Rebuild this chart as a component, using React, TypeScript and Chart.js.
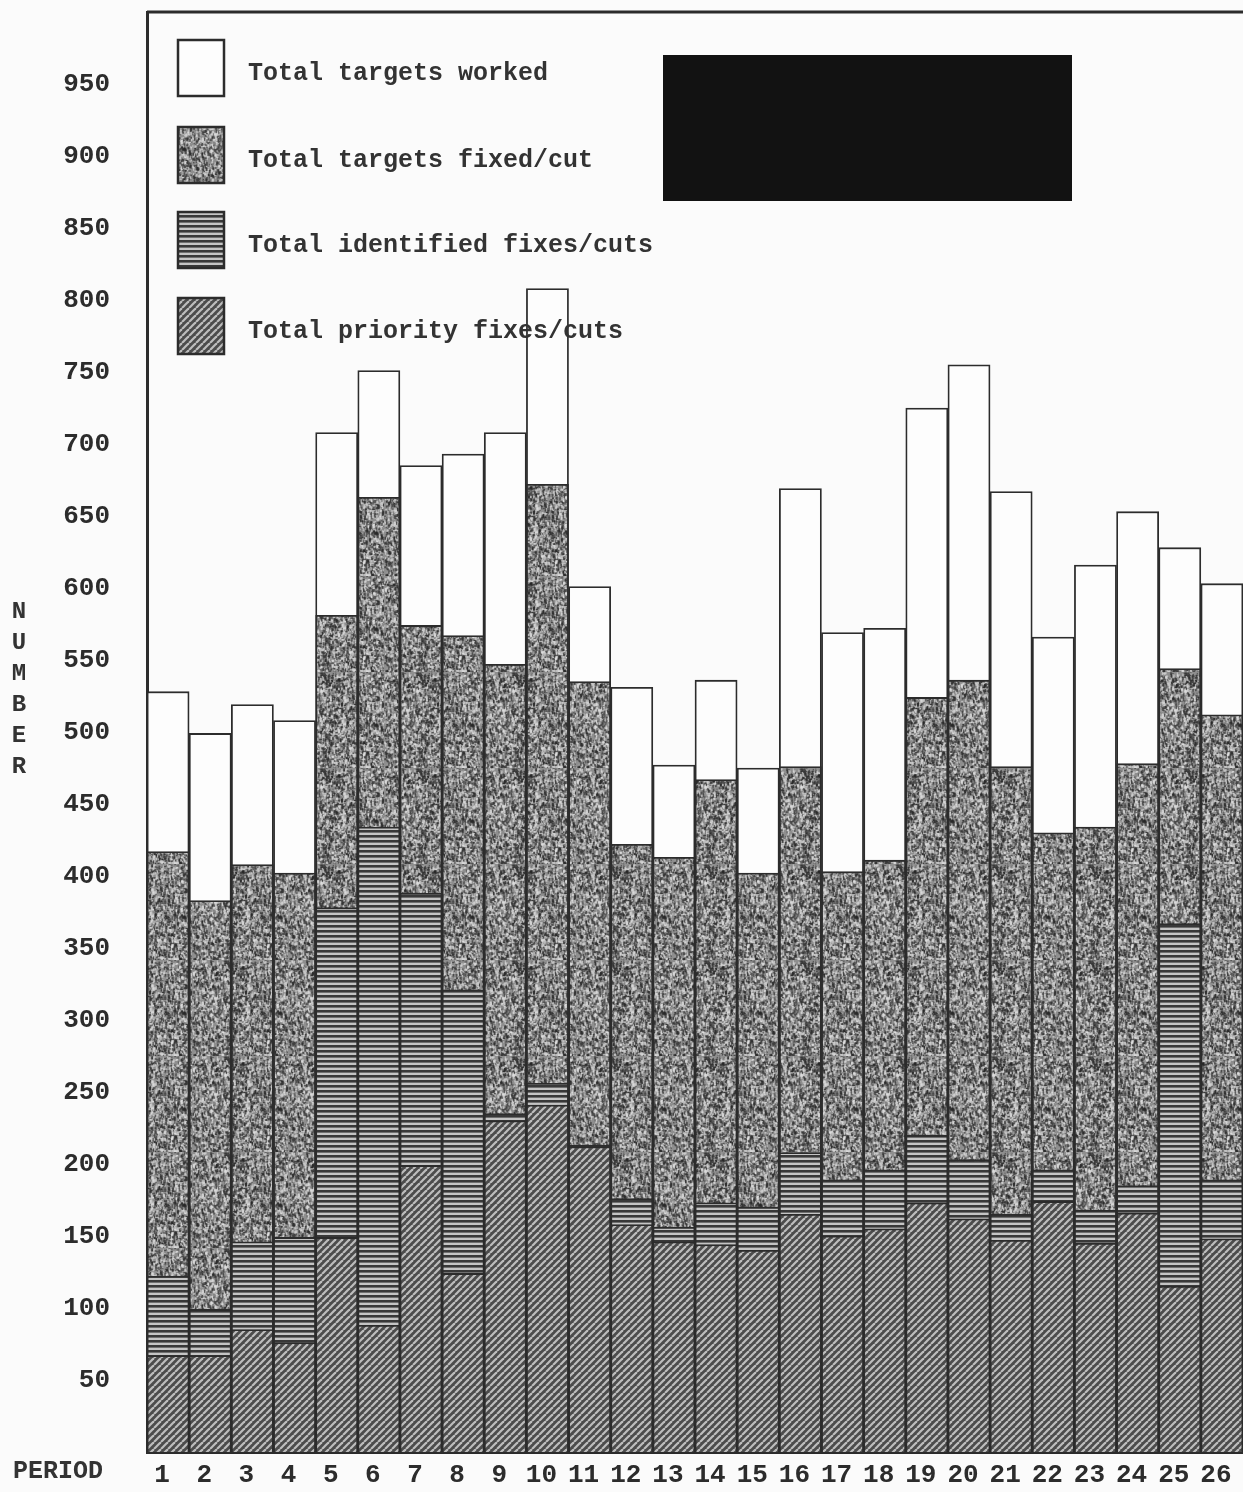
import React, { useEffect, useRef } from "react";
import { Chart, registerables } from "chart.js";

Chart.register(...registerables);

const periods = ["1","2","3","4","5","6","7","8","9","10","11","12","13","14","15","16","17","18","19","20","21","22","23","24","25","26"];
const totalWorked = [528,499,519,508,708,751,685,693,708,808,601,531,477,536,475,669,569,572,725,755,667,566,616,653,628,603];
const totalFixedCut = [417,383,408,402,581,663,574,567,547,672,535,422,413,467,402,476,403,411,524,536,476,430,434,478,544,512];
const identifiedFixes = [122,99,146,149,378,434,388,321,235,256,213,176,156,173,170,208,189,196,220,203,165,196,168,185,367,189];
const priorityFixes = [67,67,85,76,149,88,199,124,230,241,212,158,146,144,140,165,150,155,173,162,147,174,145,166,115,148];
const seriesLabels = ["Total targets worked", "Total targets fixed/cut", "Total identified fixes/cuts", "Total priority fixes/cuts"];
const yAxisTitle = "NUMBER";
const xAxisTitle = "PERIOD";

const FONT = "'Liberation Mono', 'DejaVu Sans Mono', monospace";
const INK = "#2c2c2c";

function makeRng(seed: number) {
  let s = seed >>> 0;
  return () => {
    s = (s * 1664525 + 1013904223) >>> 0;
    return s / 4294967296;
  };
}

function stipple(ctx: CanvasRenderingContext2D) {
  const c = document.createElement("canvas");
  c.width = 96; c.height = 96;
  const g = c.getContext("2d")!;
  g.fillStyle = "#8e8e8e";
  g.fillRect(0, 0, 96, 96);
  const rng = makeRng(11);
  for (let i = 0; i < 3200; i++) {
    const x = rng() * 96, y = rng() * 96, r = rng();
    g.fillStyle = r < 0.55 ? "rgba(40,40,40,0.6)" : "rgba(225,225,225,0.6)";
    g.fillRect(x, y, 1 + rng() * 1.5, 1 + rng() * 3);
  }
  return ctx.createPattern(c, "repeat")!;
}

function stripes(ctx: CanvasRenderingContext2D) {
  const c = document.createElement("canvas");
  c.width = 8; c.height = 5;
  const g = c.getContext("2d")!;
  g.fillStyle = "#c4c4c4";
  g.fillRect(0, 0, 8, 5);
  g.fillStyle = "#383838";
  g.fillRect(0, 0, 8, 2.6);
  return ctx.createPattern(c, "repeat")!;
}

function hatch(ctx: CanvasRenderingContext2D) {
  const s = 7;
  const c = document.createElement("canvas");
  c.width = s; c.height = s;
  const g = c.getContext("2d")!;
  g.fillStyle = "#4c4c4c";
  g.fillRect(0, 0, s, s);
  g.strokeStyle = "#bdbdbd";
  g.lineWidth = 2.2;
  for (const off of [-s, 0, s]) {
    g.beginPath();
    g.moveTo(off, s);
    g.lineTo(off + s, 0);
    g.stroke();
  }
  return ctx.createPattern(c, "repeat")!;
}

export default function App() {
  const ref = useRef<HTMLCanvasElement | null>(null);

  useEffect(() => {
    document.body.style.margin = "0";
    const canvas = ref.current!;
    const ctx = canvas.getContext("2d")!;
    const fills = ["#fdfdfd", stipple(ctx), stripes(ctx), hatch(ctx)] as any[];
    const values = [totalWorked, totalFixedCut, identifiedFixes, priorityFixes];

    const paperPlugin = {
      id: "paper",
      beforeDraw(chart: any) {
        const c = chart.ctx;
        c.save();
        c.fillStyle = "#fbfbfb";
        c.fillRect(0, 0, chart.width, chart.height);
        c.restore();
      },
      afterDraw(chart: any) {
        const c = chart.ctx;
        const area = chart.chartArea;
        c.save();
        // top frame line
        c.strokeStyle = INK;
        c.lineWidth = 3;
        c.beginPath();
        c.moveTo(area.left, area.top);
        c.lineTo(area.right, area.top);
        c.stroke();
        // legend
        const boxY = [40, 127, 212, 298];
        c.font = `bold 25px ${FONT}`;
        c.textBaseline = "middle";
        c.textAlign = "left";
        for (let i = 0; i < 4; i++) {
          c.fillStyle = fills[i];
          c.fillRect(178, boxY[i], 46, 56);
          c.lineWidth = 2.5;
          c.strokeStyle = INK;
          c.strokeRect(178, boxY[i], 46, 56);
          c.fillStyle = "#333";
          c.fillText(seriesLabels[i], 248, boxY[i] + 34);
        }
        // redaction block
        c.fillStyle = "#121212";
        c.fillRect(663, 55, 409, 146);
        // y-axis title, letters stacked
        c.font = `bold 24px ${FONT}`;
        c.textAlign = "center";
        c.fillStyle = "#333";
        for (let i = 0; i < yAxisTitle.length; i++) {
          c.fillText(yAxisTitle[i], 19, 612 + i * 31);
        }
        // x-axis title
        c.font = `bold 25px ${FONT}`;
        c.textAlign = "left";
        c.fillText(xAxisTitle, 13, 1472);
        c.restore();
      },
    };

    const chart = new Chart(canvas, {
      type: "bar",
      data: {
        labels: periods,
        datasets: seriesLabels.map((label, i) => ({
          label,
          data: values[i],
          backgroundColor: fills[i],
          borderColor: INK,
          borderWidth: 1.8,
          grouped: false,
          order: 3 - i,
          categoryPercentage: 1,
          barPercentage: 1,
        })) as any,
      },
      options: {
        responsive: false,
        animation: false,
        layout: { padding: { top: 12, right: 0, left: 0, bottom: 0 } },
        plugins: { legend: { display: false }, tooltip: { enabled: false }, title: { display: false } },
        scales: {
          x: {
            offset: true,
            grid: { display: false, drawTicks: false },
            border: { display: true, color: INK, width: 3 },
            ticks: {
              color: INK,
              padding: 8,
              labelOffset: -6,
              maxRotation: 0,
              autoSkip: false,
              font: { family: FONT, size: 26, weight: "bold" },
            },
            afterFit: (scale: any) => {
              scale.height = 40;
              scale.paddingLeft = 0;
              scale.paddingRight = 0;
            },
          },
          y: {
            min: 0,
            max: 1000,
            grid: { display: false, drawTicks: false },
            border: { display: true, color: INK, width: 3 },
            ticks: {
              stepSize: 50,
              color: INK,
              padding: 37,
              font: { family: FONT, size: 26, weight: "bold" },
              callback: (v: any) => (v === 0 || v === 1000 ? null : String(v)),
            },
            afterFit: (scale: any) => {
              scale.width = 147;
              scale.paddingTop = 0;
              scale.paddingBottom = 0;
            },
          },
        },
      } as any,
      plugins: [paperPlugin],
    });
    return () => chart.destroy();
  }, []);

  return (
    <div style={{ width: 1243, height: 1492 }}>
      <canvas ref={ref} width={1243} height={1492} style={{ display: "block" }} />
    </div>
  );
}
